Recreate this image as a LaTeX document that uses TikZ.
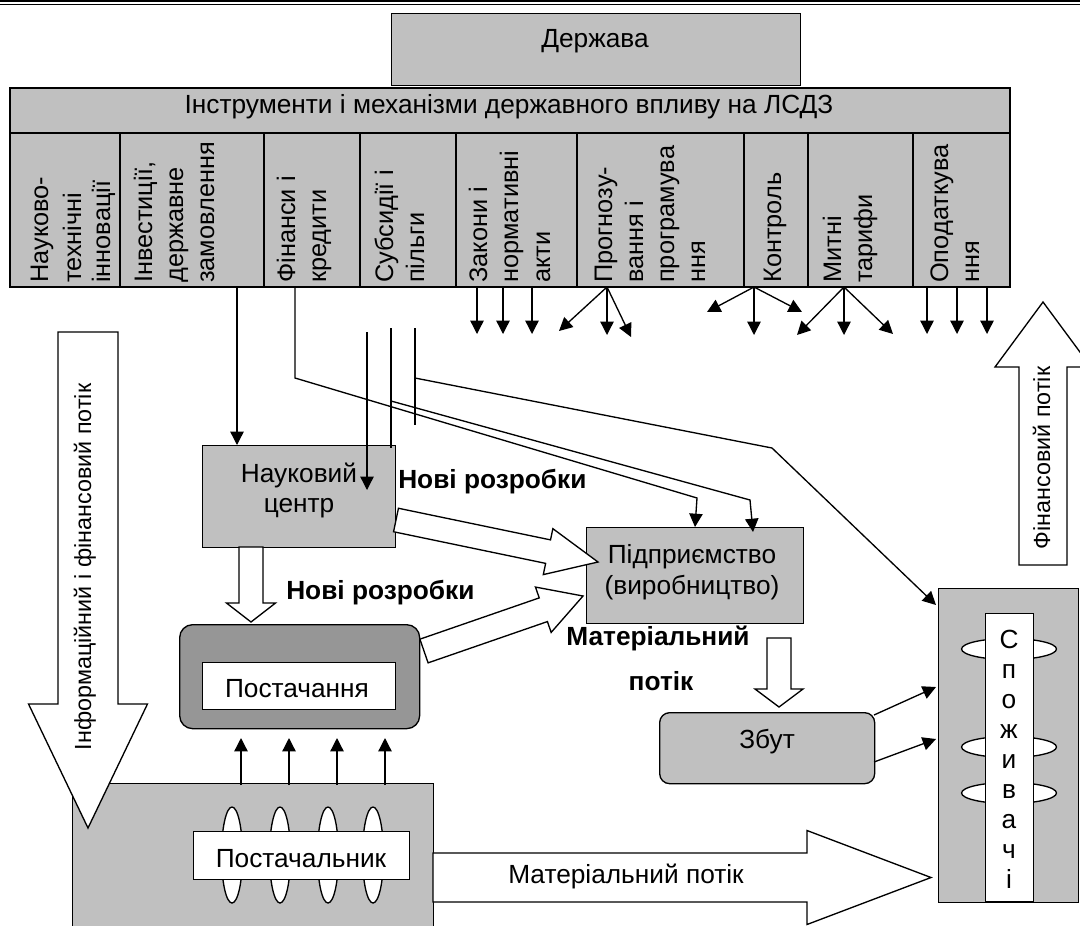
\documentclass[tikz,border=0pt]{standalone}
\usepackage{fontspec}
\setmainfont{Liberation Sans}
\usetikzlibrary{arrows.meta,calc}
\definecolor{boxgray}{RGB}{192,192,192}
\definecolor{darkbox}{RGB}{150,150,150}
\tikzset{
  txt/.style={font=\fontsize{19.7}{23}\selectfont, inner sep=0},
  btxt/.style={font=\fontsize{19.7}{23}\selectfont\bfseries, inner sep=0},
  vtxt/.style={font=\fontsize{19}{22.5}\selectfont, inner sep=0, rotate=90, anchor=base west},
  rtxt/.style={font=\fontsize{17.5}{21}\selectfont, inner sep=0, rotate=90, anchor=base},
  gbox/.style={draw, fill=boxgray, line width=1pt, inner sep=0, anchor=north west},
  wbox/.style={draw, fill=white, line width=1pt, inner sep=0, anchor=north west},
  conn/.style={line width=1pt, -{Triangle[length=10pt,width=10pt]}},
  plain/.style={line width=1pt},
  blockarrow/.style={draw, fill=white, line width=1pt, line join=miter},
  oval/.style={draw, fill=white, line width=1pt}
}
% block arrow: #1 tail, #2 tip, #3 half shaft width, #4 half head width, #5 head length
\newcommand\barrow[5]{%
  \coordinate (bA) at (#1); \coordinate (bB) at (#2);
  \coordinate (bC) at ($(bB)!#5!(bA)$);
  \filldraw[blockarrow] ($(bA)!#3!90:(bB)$) -- ($(bC)!#3!90:(bB)$) -- ($(bC)!#4!90:(bB)$) -- (bB)
     -- ($(bC)!#4!-90:(bB)$) -- ($(bC)!#3!-90:(bB)$) -- ($(bA)!#3!-90:(bB)$) -- cycle;}
\begin{document}
\begin{tikzpicture}[x=0.75pt,y=-0.75pt]
\useasboundingbox (0,0) rectangle (1080,925);
% header rule
\draw[line width=1.5pt] (0,1) -- (1080,1);
\draw[line width=0.6pt] (0,4.2) -- (1080,4.2);

% Derzhava
\node[gbox, minimum width=306.75pt, minimum height=54pt] (derzh) at (391,13) {};
\node[txt, anchor=base] (derzhT) at (595,47) {Держава};

% instruments table
\node[gbox, line width=1.5pt, minimum width=750pt, minimum height=149.25pt] (instr) at (9,87) {};
\draw[line width=1.5pt] (9,133) -- (1009,133);
\foreach \x in {120,264,360,456,577,744,808,913} \draw[line width=1.5pt] (\x,133) -- (\x,286);
\node[txt, anchor=base] (instrT) at (509,113) {Інструменти і механізми державного впливу на ЛСДЗ};

\node[vtxt] (c1a) at (48,283) {Науково-};
\node[vtxt] (c1b) at (81,283) {технічні};
\node[vtxt] (c1c) at (110,283) {інновації};
\node[vtxt] (c2a) at (152,283) {Інвестиції,};
\node[vtxt] (c2b) at (183,283) {державне};
\node[vtxt] (c2c) at (214,283) {замовлення};
\node[vtxt] (c3a) at (295,283) {Фінанси і};
\node[vtxt] (c3b) at (326,283) {кредити};
\node[vtxt] (c4a) at (393,283) {Субсидії і};
\node[vtxt] (c4b) at (424,283) {пільги};
\node[vtxt] (c5a) at (487,283) {Закони і};
\node[vtxt] (c5b) at (518,283) {нормативні};
\node[vtxt] (c5c) at (550,283) {акти};
\node[vtxt] (c6a) at (612,283) {Прогнозу-};
\node[vtxt] (c6b) at (643,283) {вання і};
\node[vtxt] (c6c) at (674,283) {програмува};
\node[vtxt] (c6d) at (705,283) {ння};
\node[vtxt] (c7a) at (781,283) {Контроль};
\node[vtxt] (c8a) at (841,283) {Митні};
\node[vtxt] (c8b) at (872,283) {тарифи};
\node[vtxt] (c9a) at (948,283) {Оподаткува};
\node[vtxt] (c9b) at (979,283) {ння};

% arrows below the table
\foreach \x in {477,503,532,927,957,987} \draw[conn] (\x,286) -- (\x,334);
\coordinate (f6) at (607,287);
\foreach \x/\y in {559/331,607/335,631/337} \draw[conn] (f6) -- (\x,\y);
\coordinate (f7) at (754,287);
\foreach \x/\y in {707/312,754/335,802/312} \draw[conn] (f7) -- (\x,\y);
\coordinate (f8) at (844,287);
\foreach \x/\y in {797/335,844/335,893/334} \draw[conn] (f8) -- (\x,\y);

% boxes
\node[gbox, minimum width=144.75pt, minimum height=76.5pt] (nauk) at (202,445) {};
\node[txt, anchor=base] (naukT1) at (299,482) {Науковий};
\node[txt, anchor=base] (naukT2) at (299,512) {центр};

\node[gbox, minimum width=162.75pt, minimum height=72pt] (pidpr) at (586,527) {};
\node[txt, anchor=base] (pidprT1) at (692,563) {Підприємство};
\node[txt, anchor=base] (pidprT2) at (692,594) {(виробництво)};

\node[draw, fill=darkbox, line width=1pt, inner sep=0, anchor=north west, rounded corners=9.75pt,
      minimum width=180pt, minimum height=78pt] (post) at (179,624) {};
\node[wbox, minimum width=144.75pt, minimum height=35.25pt] (postIn) at (202,662) {};
\node[txt, anchor=base] (postT) at (297,697) {Постачання};

\node[gbox, minimum width=270.75pt, minimum height=112pt] (supl) at (72,783) {};
\foreach \x in {232,280,328,373} \draw[oval] (\x,855) ellipse [x radius=7.9pt, y radius=36pt];
\node[wbox, minimum width=162pt, minimum height=36pt] (suplIn) at (193,831) {};
\node[txt, anchor=base] (suplT) at (301,867) {Постачальник};

\node[draw, fill=boxgray, line width=1pt, inner sep=0, anchor=north west, rounded corners=7.5pt,
      minimum width=161.25pt, minimum height=53.25pt] (zbut) at (659,712) {};
\node[txt, anchor=base] (zbutT) at (767,748) {Збут};

\node[gbox, minimum width=105pt, minimum height=235.5pt] (spoz) at (938,588) {};
\foreach \y in {649,747,793} \draw[oval] (1009,\y) ellipse [x radius=35.6pt, y radius=7.9pt];
\node[wbox, minimum width=36pt, minimum height=216pt] (spozIn) at (985,613) {};
\foreach \c [count=\i] in {С,п,о,ж,и,в,а,ч,і}
  \node[txt, anchor=base] (s\i) at (1009,{648+30*(\i-1)}) {\c};

% thin connectors
\coordinate (invTop) at (237,286); \coordinate (invTip) at (237,445);
\draw[conn] (invTop) -- (invTip);
\coordinate (finTop) at (295,286); \coordinate (finBend) at (295,378);
\coordinate (finEnd) at (697,498); \coordinate (finTip) at (695,527);
\draw[conn] (finTop) -- (finBend) -- (finEnd) -- (finTip);
\coordinate (v1a) at (367,332); \coordinate (v1b) at (367,490);
\draw[conn] (v1a) -- (v1b);
\coordinate (v2a) at (391,328); \coordinate (v2b) at (391,448);
\draw[plain] (v2a) -- (v2b);
\coordinate (v3a) at (415,328); \coordinate (v3b) at (415,425);
\draw[plain] (v3a) -- (v3b);
\coordinate (bStart) at (391,401); \coordinate (bEnd) at (750,500); \coordinate (bTip) at (753,532);
\draw[conn] (bStart) -- (bEnd) -- (bTip);
\coordinate (cStart) at (415,378); \coordinate (cBend) at (772,448); \coordinate (cTip) at (936,605);
\draw[conn] (cStart) -- (cBend) -- (cTip);
\foreach \x in {241,289,337,385} \draw[conn] (\x,785) -- (\x,738);
\coordinate (z1) at (874,715); \coordinate (z1t) at (936,687);
\coordinate (z2) at (874,762); \coordinate (z2t) at (936,739);
\draw[conn] (z1) -- (z1t);
\draw[conn] (z2) -- (z2t);

% block arrows
\coordinate (infT) at (88,332); \coordinate (infH) at (88,828);
\barrow{infT}{infH}{22.5pt}{44.6pt}{93pt}
\coordinate (finT) at (1043,565); \coordinate (finH) at (1043,302);
\barrow{finT}{finH}{18pt}{36pt}{48.75pt}
\coordinate (np1) at (251,547); \coordinate (np2) at (251,622);
\barrow{np1}{np2}{9pt}{18.4pt}{14.25pt}
\coordinate (nd1) at (396,520); \coordinate (nd2) at (598,562);
\barrow{nd1}{nd2}{9pt}{17.6pt}{38.25pt}
\coordinate (pd1) at (424,651); \coordinate (pd2) at (583,596);
\barrow{pd1}{pd2}{9.4pt}{18pt}{31.5pt}
\coordinate (dz1) at (779,638); \coordinate (dz2) at (779,707);
\barrow{dz1}{dz2}{9pt}{18pt}{13.5pt}
\coordinate (mp1) at (433,877.5); \coordinate (mp2) at (931,877.5);
\barrow{mp1}{mp2}{18.4pt}{35.25pt}{93pt}

% labels
\node[rtxt] (infL) at (91,567) {Інформаційний і фінансовий потік};
\node[rtxt] (finL) at (1050,458) {Фінансовий потік};
\node[txt, anchor=base] (mpL) at (626,883) {Матеріальний потік};
\node[btxt, anchor=base west] (nr1) at (398,488) {Нові розробки};
\node[btxt, anchor=base west] (nr2) at (286,599) {Нові розробки};
\node[btxt, anchor=base] (mat1) at (658,645) {Матеріальний};
\node[btxt, anchor=base] (mat2) at (661,690) {потік};
\end{tikzpicture}
\end{document}
